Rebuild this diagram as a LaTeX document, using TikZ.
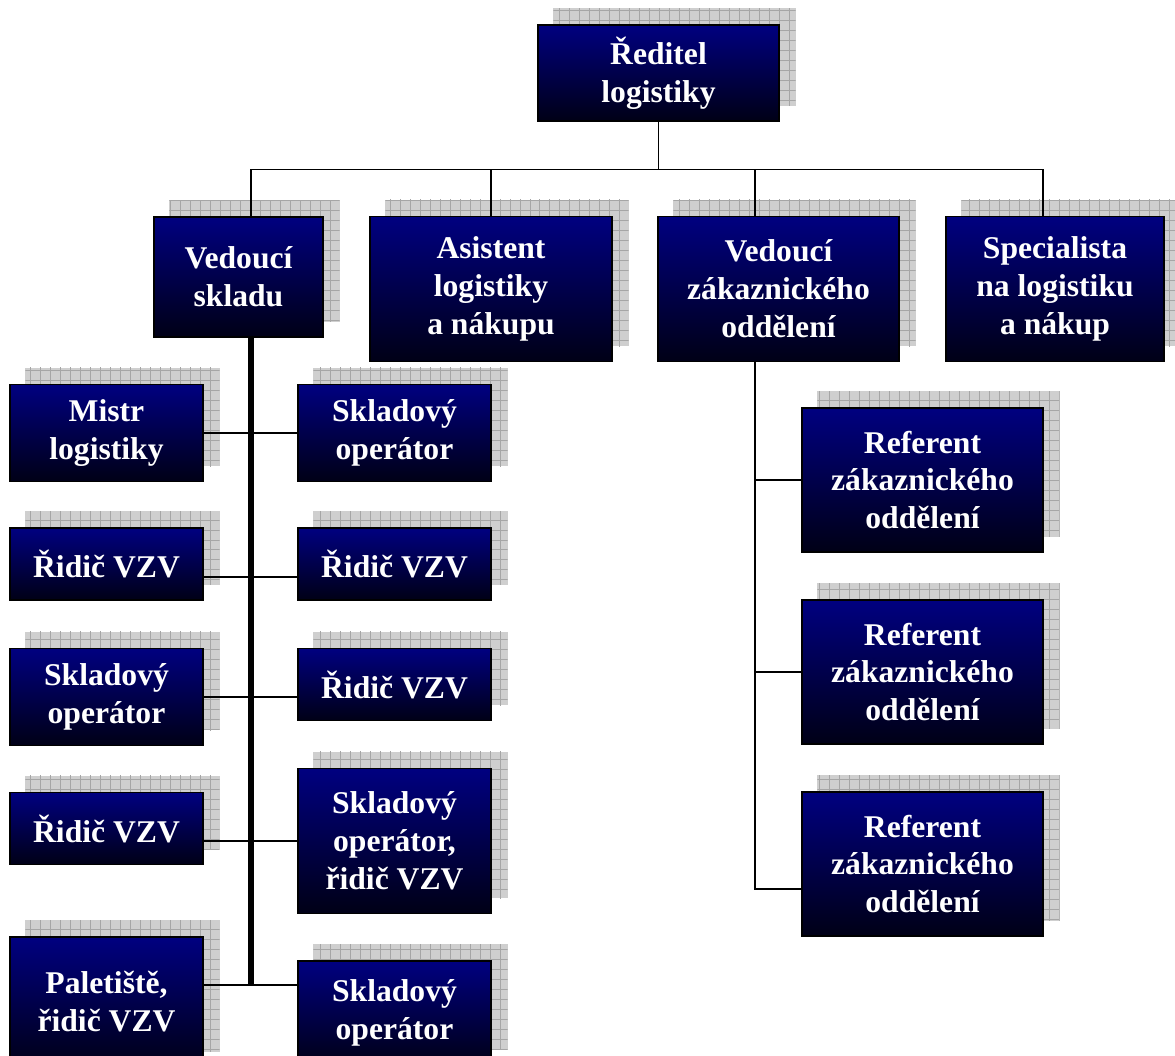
\documentclass[tikz,border=0pt]{standalone}
\usepackage{fontspec}
\setmainfont{Liberation Serif}
\usepackage{xcolor}
\usetikzlibrary{calc, backgrounds}

\definecolor{boxtop}{RGB}{0,0,128}
\definecolor{boxmid}{RGB}{0,0,95}
\definecolor{boxbot}{RGB}{0,0,22}

\pgfdeclarelayer{shadow}
\pgfsetlayers{shadow,background,main}

\tikzset{
  orgbox/.style 2 args={draw=black, line width=0.8pt, top color=boxtop, middle color=boxmid, bottom color=boxbot,
    text=white, font=\fontsize{18}{21.6}\selectfont\bfseries, align=center, inner sep=0pt,
    minimum width=#1*0.02cm, minimum height=#2*0.02cm},
  link/.style={line width=0.9pt},
  spine/.style={line width=2.9pt},
}

\begin{document}
\begin{tikzpicture}[x=0.02cm, y=-0.02cm]
\useasboundingbox (0,0) rectangle (1175,1055);

% top
\node[orgbox={241}{96}]  (dir) at (658.5,73)  {Ředitel\\logistiky};

% second level
\node[orgbox={169}{120}] (vsk) at (238.5,277) {Vedoucí\\skladu};
\node[orgbox={242}{145}] (asi) at (491,289)   {Asistent\\logistiky\\a nákupu};
\node[orgbox={241}{145}] (vzo) at (778.5,289) {Vedoucí\\zákaznického\\oddělení};
\node[orgbox={218}{145}] (spe) at (1055,289)  {Specialista\\na logistiku\\a nákup};

% sklad, left column
\node[orgbox={193}{97}]  (mis)  at (106.5,433)   {Mistr\\logistiky};
\node[orgbox={193}{72}]  (rid1) at (106.5,564)   {Řidič VZV};
\node[orgbox={193}{97}]  (sop2) at (106.5,697)   {Skladový\\operátor};
\node[orgbox={193}{72}]  (rid4) at (106.5,828.5) {Řidič VZV};
\node[orgbox={193}{130}] (pal)  at (106.5,1002)  {Paletiště,\\řidič VZV};

% sklad, right column
\node[orgbox={193}{97}]  (sop1) at (394.5,433)   {Skladový\\operátor};
\node[orgbox={193}{72}]  (rid2) at (394.5,564)   {Řidič VZV};
\node[orgbox={193}{72}]  (rid3) at (394.5,684.5) {Řidič VZV};
\node[orgbox={193}{145}] (sor)  at (394.5,841)   {Skladový\\operátor,\\řidič VZV};
\node[orgbox={193}{104}] (sop3) at (394.5,1013)  {Skladový\\operátor};

% zakaznicke oddeleni
\node[orgbox={241}{144}] (ref1) at (922.5,480) {Referent\\zákaznického\\oddělení};
\node[orgbox={241}{144}] (ref2) at (922.5,672) {Referent\\zákaznického\\oddělení};
\node[orgbox={241}{144}] (ref3) at (922.5,864) {Referent\\zákaznického\\oddělení};

% shadows
\begin{pgfonlayer}{shadow}
\foreach \n in {dir,vsk,asi,vzo,spe,mis,rid1,sop2,rid4,pal,sop1,rid2,rid3,sor,sop3,ref1,ref2,ref3}{
  \fill[gray!38] ($(\n.south west)+(16,-16)$) rectangle ($(\n.north east)+(16,-16)$);
  \begin{scope}
    \clip ($(\n.south west)+(16,-16)$) rectangle ($(\n.north east)+(16,-16)$);
    \draw[gray!70, line width=0.45pt, step=0.2cm] ($(\n.south west)+(0,10)$) grid ($(\n.north east)+(30,-30)$);
  \end{scope}
}
\end{pgfonlayer}

% connectors
\begin{pgfonlayer}{background}
\coordinate (bus) at ($(dir.south)+(0,48)$);
\coordinate (vsk-in) at ($(vsk.north)+(12.5,0)$);
\coordinate (spe-in) at ($(spe.north)+(-12,0)$);
\coordinate (vzo-in) at ($(vzo.north)+(-23.5,0)$);
\coordinate (vsk-out) at ($(vsk.south)+(12.5,0)$);
\coordinate (vzo-out) at ($(vzo.south)+(-23.5,0)$);

\draw[link] (dir.south) -- (bus);
\draw[link] (vsk-in) |- (bus) -| (spe-in);
\draw[link] (asi.north) -- (asi.north |- bus);
\draw[link] (vzo-in) -- (vzo-in |- bus);

\draw[link] (mis.east) -- (sop1.west); %row 1
\draw[link] ($(rid1.east)+(0,13)$) -- ($(rid2.west)+(0,13)$); %row 2
\draw[link] (sop2.east) -- (sop2.east -| rid3.west); %row 3
\draw[link] (rid4.east |- sor.west) -- (sor.west); %row 4
\draw[link] ($(pal.east)+(0,-17)$) coordinate (row5) -- (row5 -| sop3.west); %row 5
\draw[spine] (vsk-out) -- (vsk-out |- row5);

\draw[link] (vzo-out) |- ($(ref3.west)+(0,25)$);
\draw[link] (vzo-out |- ref1.west) -- (ref1.west);
\draw[link] (vzo-out |- ref2.west) -- (ref2.west);
\end{pgfonlayer}

\end{tikzpicture}
\end{document}
